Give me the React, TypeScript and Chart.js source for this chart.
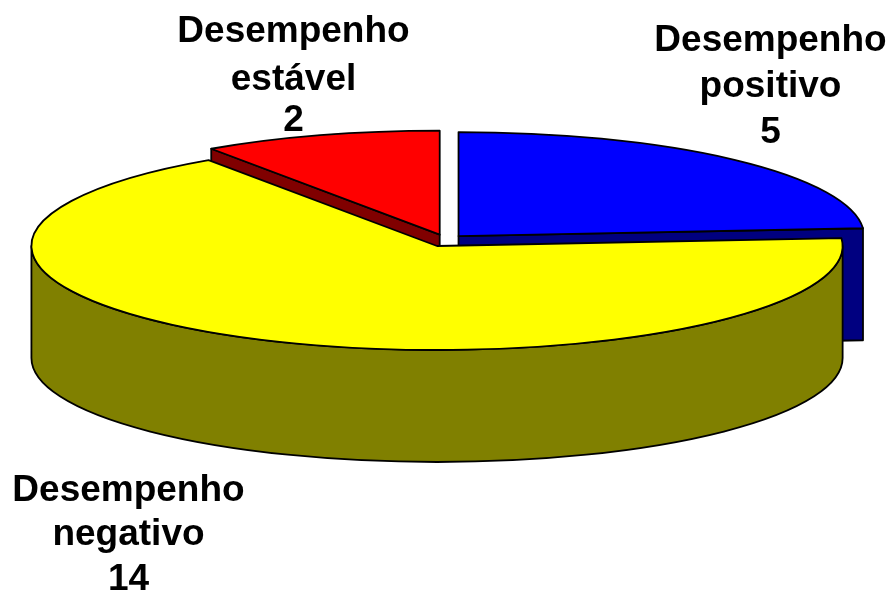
import React, { useEffect, useRef } from "react";
import { Chart } from "chart.js/auto";

const categories = ["Desempenho positivo", "Desempenho negativo", "Desempenho estável"];
const values = [5, 14, 2];
const topColors = ["#0000ff", "#ffff00", "#ff0000"];
const sideColors = ["#000080", "#808000", "#800000"];
const labelLines = [
  ["Desempenho", "positivo"],
  ["Desempenho", "negativo"],
  ["Desempenho", "estável"],
];
const labelCenters = [770.5, 128.5, 293.5];
const labelBaselines = [
  [51, 96.5, 142.5],
  [500.5, 545, 589.5],
  [42, 90, 131],
];

const CENTER_X = 445.4;
const CENTER_Y = 240.5;
const RADIUS_X = 405.6;
const RADIUS_Y = 104;
const DEPTH = 112;
const EXPLODE = 20;
const EXPLODE_X = 19.3 / EXPLODE;
const EXPLODE_Y = 6.1 / EXPLODE;
const DRAW_ORDER = [2, 0, 1];

const pie3d = {
  id: "pie3d",
  beforeDatasetsDraw(chart: any) {
    const ctx = chart.ctx;
    const arcs = chart.getDatasetMeta(0).data;
    ctx.save();
    ctx.lineJoin = "round";
    DRAW_ORDER.forEach((i: number) => {
      const arc = arcs[i];
      const { startAngle: a, endAngle: b } = arc.getProps(["startAngle", "endAngle"], true);
      const mid = (a + b) / 2;
      const offset = arc.options.offset;
      const cx = CENTER_X + Math.cos(mid) * offset * EXPLODE_X;
      const cy = CENTER_Y + Math.sin(mid) * offset * EXPLODE_Y;
      const px = (t: number) => cx + Math.cos(t) * RADIUS_X;
      const py = (t: number) => cy + Math.sin(t) * RADIUS_Y;
      ctx.lineWidth = arc.options.borderWidth;
      ctx.strokeStyle = arc.options.borderColor;

      const face = (t: number) => {
        ctx.beginPath();
        ctx.moveTo(cx, cy);
        ctx.lineTo(px(t), py(t));
        ctx.lineTo(px(t), py(t) + DEPTH);
        ctx.lineTo(cx, cy + DEPTH);
        ctx.closePath();
        ctx.fillStyle = sideColors[i];
        ctx.fill();
        ctx.stroke();
      };
      if (-Math.cos(a) > 1e-6) face(a);
      if (Math.cos(b) > 1e-6) face(b);

      const s = Math.max(a, 0);
      const e = Math.min(b, Math.PI);
      if (e > s) {
        ctx.beginPath();
        ctx.ellipse(cx, cy, RADIUS_X, RADIUS_Y, 0, s, e);
        ctx.ellipse(cx, cy + DEPTH, RADIUS_X, RADIUS_Y, 0, e, s, true);
        ctx.closePath();
        ctx.fillStyle = sideColors[i];
        ctx.fill();
        ctx.stroke();
      }

      ctx.beginPath();
      ctx.moveTo(cx, cy);
      ctx.ellipse(cx, cy, RADIUS_X, RADIUS_Y, 0, a, b);
      ctx.closePath();
      ctx.fillStyle = arc.options.backgroundColor;
      ctx.fill();
      ctx.stroke();
    });
    ctx.restore();
    return false;
  },
  afterDraw(chart: any) {
    const ctx = chart.ctx;
    const data = chart.data.datasets[0].data;
    ctx.save();
    ctx.font = 'bold 37px "Liberation Sans", Arial, sans-serif';
    ctx.fillStyle = "#000";
    ctx.textAlign = "center";
    ctx.textBaseline = "alphabetic";
    labelLines.forEach((lines: string[], i: number) => {
      [...lines, String(data[i])].forEach((t: string, j: number) => {
        ctx.fillText(t, labelCenters[i], labelBaselines[i][j]);
      });
    });
    ctx.restore();
  },
};

export default function App() {
  const ref = useRef<HTMLCanvasElement>(null);
  useEffect(() => {
    const chart = new Chart(ref.current as HTMLCanvasElement, {
      type: "pie",
      data: {
        labels: categories,
        datasets: [
          {
            data: values,
            backgroundColor: topColors,
            borderColor: "#000000",
            borderWidth: 1.8,
            offset: EXPLODE,
          },
        ],
      },
      options: {
        responsive: false,
        animation: false,
        plugins: { legend: { display: false }, tooltip: { enabled: false } },
      },
      plugins: [pie3d],
    } as any);
    return () => chart.destroy();
  }, []);
  return (
    <div style={{ position: "absolute", left: 0, top: 0, width: 894, height: 592, background: "#fff" }}>
      <canvas ref={ref} width={894} height={592} style={{ display: "block" }} />
    </div>
  );
}
